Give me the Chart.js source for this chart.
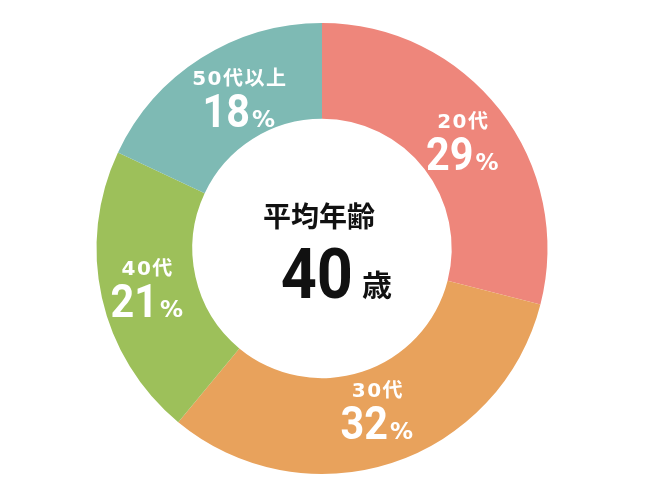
<!DOCTYPE html>
<html lang="ja">
<head>
<meta charset="utf-8">
<title>平均年齢</title>
<script src="https://cdn.jsdelivr.net/npm/chart.js@4"></script>
<style>
  html, body { margin: 0; padding: 0; background: #fff; }
  #wrap { width: 650px; height: 500px; }
</style>
</head>
<body>
<div id="wrap"><canvas id="ageChart"></canvas></div>
<script>
// data
const ageGroups = ['20代', '30代', '40代', '50代以上'];
const agePercents = [29, 32, 21, 18];
const sliceColors = ['#EE867B', '#E8A25C', '#9DC05A', '#7EBAB4'];
const centerTitle = '平均年齢';
const averageAge = 40;
const ageUnit = '歳';

// small manual nudges for the slice labels (px)
const labelNudge = [[0, 0], [0, -8], [-2, 0], [12, -2]];

const numFont = 'Roboto, "DejaVu Sans", sans-serif';
const jpFont = '"DejaVu Sans", "Noto Sans CJK JP", sans-serif';

// draw text squeezed horizontally (condensed look)
function squeezed(ctx, text, x, y, sx) {
    ctx.save();
    ctx.translate(x, y);
    ctx.scale(sx, 1);
    ctx.fillText(text, 0, 0);
    ctx.restore();
}

const sliceLabels = {
    id: 'sliceLabels',
    afterDatasetsDraw(chart) {
        const ctx = chart.ctx;
        const meta = chart.getDatasetMeta(0);
        const sx = 0.88;
        ctx.save();
        ctx.fillStyle = '#fff';
        ctx.textBaseline = 'alphabetic';
        meta.data.forEach((arc, i) => {
            const pos = arc.tooltipPosition(true);
            const x = pos.x + labelNudge[i][0];
            const y = pos.y + labelNudge[i][1];

            // group name
            ctx.font = 'bold 20px ' + jpFont;
            ctx.letterSpacing = '1.5px';
            ctx.textAlign = 'center';
            ctx.fillText(ageGroups[i], x + 1, y - 12);

            // percent value + small %
            ctx.letterSpacing = '0px';
            const numText = String(agePercents[i]);
            ctx.font = 'bold 47px ' + numFont;
            const wNum = ctx.measureText(numText).width * sx;
            ctx.font = 'bold 23px ' + jpFont;
            const wPct = ctx.measureText('%').width;
            const left = x - (wNum + 2 + wPct) / 2;
            ctx.textAlign = 'left';
            ctx.font = 'bold 47px ' + numFont;
            squeezed(ctx, numText, left, y + 30, sx);
            ctx.font = 'bold 23px ' + jpFont;
            ctx.fillText('%', left + wNum + 2, y + 30);
        });
        ctx.restore();
    },
    afterDraw(chart) {
        const ctx = chart.ctx;
        const area = chart.chartArea;
        const cx = (area.left + area.right) / 2;
        const cy = (area.top + area.bottom) / 2;
        ctx.save();
        ctx.fillStyle = '#111';
        ctx.textBaseline = 'middle';
        ctx.textAlign = 'center';
        ctx.font = 'bold 28px "Noto Sans CJK JP", sans-serif';
        ctx.fillText(centerTitle, cx - 3, cy - 32);

        ctx.textBaseline = 'alphabetic';
        ctx.textAlign = 'left';
        ctx.font = 'bold 70px ' + numFont;
        const sx = 0.9;
        const w = ctx.measureText(String(averageAge)).width * sx;
        squeezed(ctx, String(averageAge), cx + 31 - w, cy + 49, sx);
        ctx.font = 'bold 30px "Noto Sans CJK JP", sans-serif';
        ctx.fillText(ageUnit, cx + 40, cy + 47);
        ctx.restore();
    }
};

const chartCtx = document.getElementById('ageChart').getContext('2d');
new Chart(chartCtx, {
    type: 'doughnut',
    data: {
        labels: ageGroups,
        datasets: [{
            data: agePercents,
            backgroundColor: sliceColors,
            borderWidth: 0,
            hoverOffset: 0
        }]
    },
    options: {
        responsive: true,
        maintainAspectRatio: false,
        animation: false,
        cutout: '57.5%',
        layout: { padding: { left: 0, right: 6, top: 23, bottom: 26 } },
        plugins: {
            legend: { display: false },
            tooltip: { enabled: false }
        }
    },
    plugins: [sliceLabels]
});
</script>
</body>
</html>
